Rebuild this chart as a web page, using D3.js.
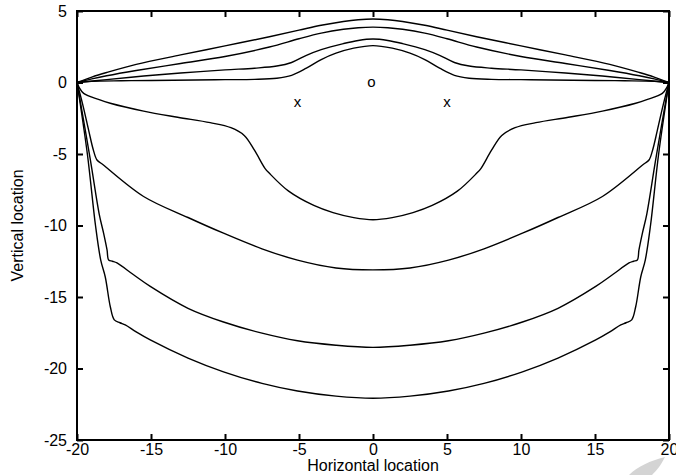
<!DOCTYPE html>
<html>
<head>
<meta charset="utf-8">
<script src="https://cdn.jsdelivr.net/npm/d3@7"></script>
<style>
  html, body { margin: 0; padding: 0; background: #fff; }
  svg { display: block; }
</style>
</head>
<body>
<div id="chart"></div>
<script>
// ── Data: contour lines (x = horizontal location, y = vertical location) ──
const upper1 = [[-20,0],[-19,0.38],[-18,0.7],[-16,1.27],[-13,1.93],[-10,2.56],[-7,3.2],[-5,3.66],[-3.5,4.0],[-2,4.27],[-1,4.39],[0,4.44],
                [1,4.39],[2,4.27],[3.5,4.0],[5,3.66],[7,3.2],[10,2.56],[13,1.93],[16,1.27],[18,0.7],[19,0.38],[20,0]];
const upper2 = [[-20,0],[-19,0.25],[-18,0.47],[-16,0.84],[-13,1.33],[-10,1.82],[-7,2.48],[-5,3.06],[-3.5,3.45],[-2,3.72],[-1,3.83],[0,3.87],
                [1,3.83],[2,3.72],[3.5,3.45],[5,3.06],[7,2.48],[10,1.82],[13,1.33],[16,0.84],[18,0.47],[19,0.25],[20,0]];
const upper3 = [[-20,0],[-18,0.2],[-15.5,0.45],[-13,0.66],[-10,0.88],[-8,1.0],[-6.5,1.15],[-5.5,1.4],[-4.5,1.9],[-3.5,2.3],[-2,2.72],[-1,2.94],[0,3.04],
                [1,2.94],[2,2.72],[3.5,2.3],[4.5,1.9],[5.5,1.4],[6.5,1.15],[8,1.0],[10,0.88],[13,0.66],[15.5,0.45],[18,0.2],[20,0]];
const upper4 = [[-20,0],[-19,0.08],[-17,0.12],[-15,0.14],[-12,0.18],[-10,0.2],[-8,0.22],[-6.5,0.3],[-5.5,0.5],[-4.5,1.0],[-3.5,1.6],[-2.5,2.05],[-1.3,2.4],[0,2.58],
                [1.3,2.4],[2.5,2.05],[3.5,1.6],[4.5,1.0],[5.5,0.5],[6.5,0.3],[8,0.22],[10,0.2],[12,0.18],[15,0.14],[17,0.12],[19,0.08],[20,0]];
const lower1 = [[-20,0],[-19.85,-0.35],[-19.55,-0.76],[-18.5,-1.2],[-17.75,-1.45],[-15.5,-2.0],[-13.2,-2.43],[-11,-2.81],[-9.6,-3.16],[-8.7,-3.7],[-8.0,-4.75],[-7.3,-6.0],[-7.0,-6.35],
                [-5.7,-7.6],[-4,-8.6],[-2.7,-9.1],[-1.3,-9.45],[0,-9.6],
                [1.3,-9.45],[2.7,-9.1],[4,-8.6],[5.7,-7.6],[7.0,-6.35],[7.3,-6.0],[8.0,-4.75],[8.7,-3.7],[9.6,-3.16],[11,-2.81],[13.2,-2.43],[15.5,-2.0],[17.75,-1.45],[18.5,-1.2],[19.55,-0.76],[19.85,-0.35],[20,0]];
const lower2 = [[-20,0],[-19.6,-1.6],[-19.2,-3.4],[-18.9,-4.7],[-18.65,-5.42],[-18.3,-5.7],[-15.5,-7.97],[-12.5,-9.44],[-10.1,-10.54],[-7.5,-11.63],[-5.1,-12.42],[-2.5,-12.97],[0,-13.1],
                [2.5,-12.97],[5.1,-12.42],[7.5,-11.63],[10.1,-10.54],[12.5,-9.44],[15.5,-7.97],[18.3,-5.7],[18.65,-5.42],[18.9,-4.7],[19.2,-3.4],[19.6,-1.6],[20,0]];
const lower3 = [[-20,0],[-19.1,-5.4],[-18.5,-9.2],[-18.2,-10.55],[-17.97,-11.71],[-17.86,-12.41],[-17.6,-12.5],[-17.3,-12.62],[-16.2,-13.43],[-15.05,-14.26],[-12.5,-15.79],[-10.1,-16.75],[-7.5,-17.53],[-5.1,-18.06],[-2.5,-18.37],[0,-18.52],
                [2.5,-18.37],[5.1,-18.06],[7.5,-17.53],[10.1,-16.75],[12.5,-15.79],[15.05,-14.26],[16.2,-13.43],[17.3,-12.62],[17.6,-12.5],[17.86,-12.41],[17.97,-11.71],[18.2,-10.55],[18.5,-9.2],[19.1,-5.4],[20,0]];
const lower4 = [[-20,0],[-19.3,-5.0],[-18.75,-10],[-18.4,-12.4],[-18.09,-13.6],[-17.75,-15.68],[-17.48,-16.6],[-17.1,-16.8],[-16.74,-16.95],[-16.0,-17.44],[-15.05,-18.0],[-12.5,-19.27],[-10.1,-20.23],[-7.5,-21.04],[-5.1,-21.57],[-2.5,-21.93],[0,-22.08],
                [2.5,-21.93],[5.1,-21.57],[7.5,-21.04],[10.1,-20.23],[12.5,-19.27],[15.05,-18.0],[16.0,-17.44],[16.74,-16.95],[17.1,-16.8],[17.48,-16.6],[17.75,-15.68],[18.09,-13.6],[18.4,-12.4],[18.75,-10],[19.3,-5.0],[20,0]];

const curves = [upper1, upper2, upper3, upper4, lower1, lower2, lower3, lower4];

// point markers drawn as glyphs
const markers = [
  { x: -5.1, y: -1.35, label: "x" },
  { x: -0.1, y: 0.0,   label: "o" },
  { x: 5.0,  y: -1.35, label: "x" }
];

const xTicks = [-20, -15, -10, -5, 0, 5, 10, 15, 20];
const yTicks = [5, 0, -5, -10, -15, -20, -25];

// ── Layout ──
const W = 676, H = 475;
const margin = { top: 11, right: 7, bottom: 35, left: 77 };
const width  = W - margin.left - margin.right;
const height = H - margin.top - margin.bottom;
const FONT = "'Liberation Sans', Arial, Helvetica, sans-serif";

const svg = d3.select("#chart").append("svg")
  .attr("width", W).attr("height", H);

// faint grey watermark stroke in the bottom-right corner
svg.append("path")
  .attr("d", "M629,475 C638,466 650,461 665,457 C661,465 657,470 652,475 Z")
  .attr("fill", "#d4d4d4");

const g = svg.append("g")
  .attr("transform", `translate(${margin.left},${margin.top})`);

// ── Scales ──
const x = d3.scaleLinear().domain([-20, 20]).range([0, width]);
const y = d3.scaleLinear().domain([-25, 5]).range([height, 0]);

// ── Curves ──
const line = d3.line()
  .x(d => x(d[0]))
  .y(d => y(d[1]))
  .curve(d3.curveCatmullRom.alpha(0.5));

curves.forEach(c => {
  g.append("path")
    .datum(c)
    .attr("fill", "none")
    .attr("stroke", "#000")
    .attr("stroke-width", 1.4)
    .attr("stroke-linejoin", "round")
    .attr("d", line);
});

// ── Markers ──
g.selectAll(".marker")
  .data(markers)
  .join("text")
    .attr("class", "marker")
    .attr("x", d => x(d.x))
    .attr("y", d => y(d.y))
    .attr("dy", "0.32em")
    .attr("text-anchor", "middle")
    .attr("font-family", FONT)
    .attr("font-size", "15px")
    .text(d => d.label);

// ── Axes (ticks inward on all four sides) ──
function styleAxis(sel) {
  sel.select(".domain").remove();
  sel.selectAll(".tick line").attr("stroke", "#000").attr("stroke-width", 2);
  sel.selectAll("text")
    .attr("font-family", FONT)
    .attr("font-size", "16px")
    .attr("fill", "#000");
}

const fmt = d => String(d);   // plain hyphen minus, as in the original

g.append("g")
  .attr("transform", `translate(0,${height})`)
  .call(d3.axisBottom(x).tickValues(xTicks).tickSize(-6).tickPadding(4).tickFormat(fmt))
  .call(styleAxis);

g.append("g")
  .call(d3.axisTop(x).tickValues(xTicks).tickSize(-6).tickFormat(""))
  .call(styleAxis);

g.append("g")
  .call(d3.axisLeft(y).tickValues(yTicks).tickSize(-6).tickPadding(10).tickFormat(fmt))
  .call(styleAxis);

g.append("g")
  .attr("transform", `translate(${width},0)`)
  .call(d3.axisRight(y).tickValues(yTicks).tickSize(-6).tickFormat(""))
  .call(styleAxis);

// frame
g.append("rect")
  .attr("x", 0).attr("y", 0)
  .attr("width", width).attr("height", height)
  .attr("fill", "none")
  .attr("stroke", "#000")
  .attr("stroke-width", 2);

// ── Axis titles ──
g.append("text")
  .attr("x", width / 2).attr("y", height + 31)
  .attr("text-anchor", "middle")
  .attr("font-family", FONT).attr("font-size", "16px")
  .text("Horizontal location");

g.append("text")
  .attr("transform", "rotate(-90)")
  .attr("x", -height / 2).attr("y", -54)
  .attr("text-anchor", "middle")
  .attr("font-family", FONT).attr("font-size", "16px")
  .text("Vertical location");
</script>
</body>
</html>
